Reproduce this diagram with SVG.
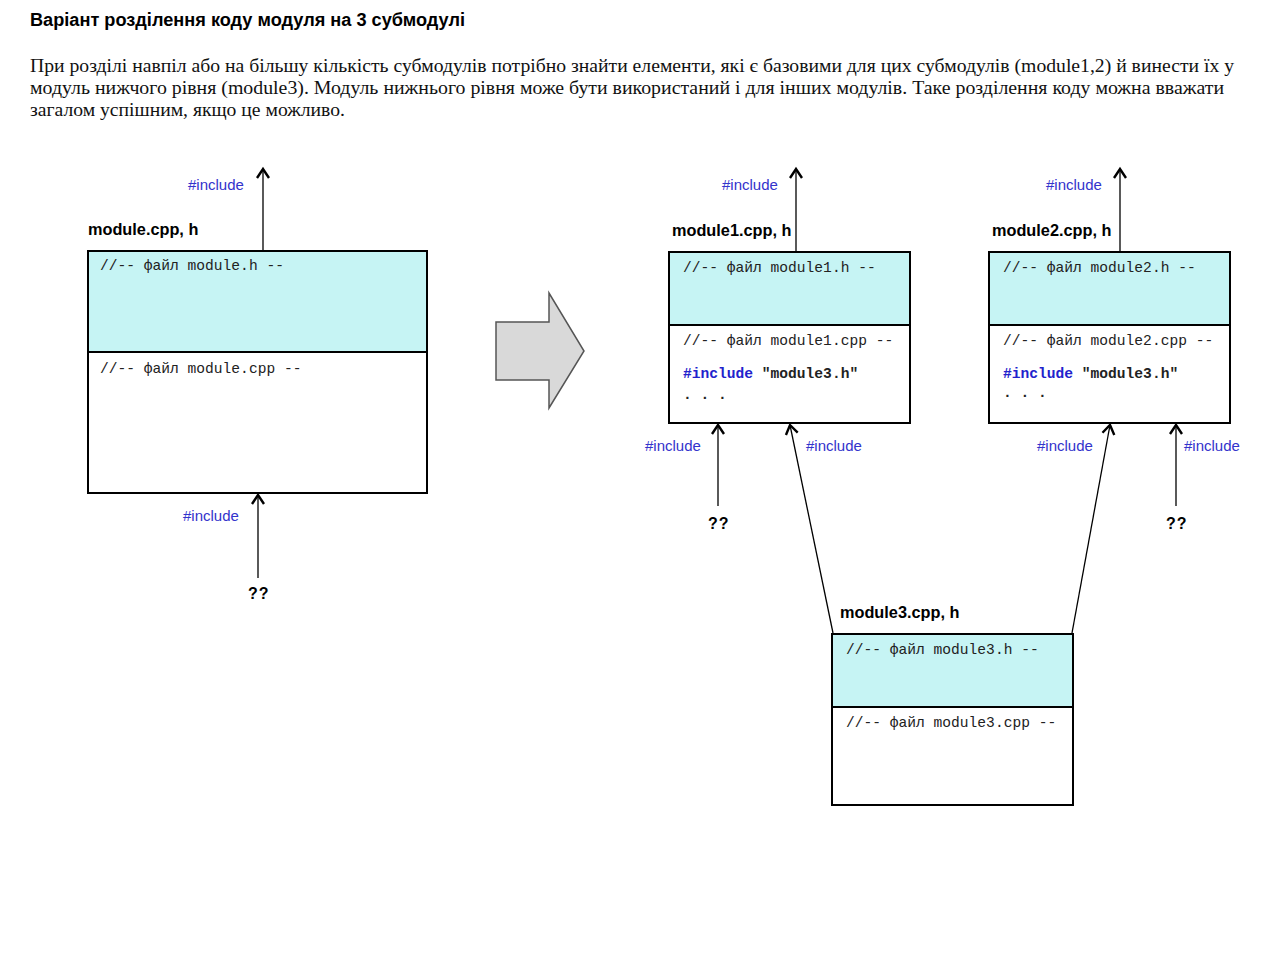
<svg xmlns="http://www.w3.org/2000/svg" width="1280" height="955" viewBox="0 0 1280 955">
<style>
.title{font-family:"Liberation Sans",Arial,sans-serif;font-weight:bold;font-size:18px;fill:#000}
.para{font-family:"Liberation Serif","Times New Roman",serif;font-size:18.5px;fill:#111}
.lbl{font-family:"Liberation Sans",Arial,sans-serif;font-weight:bold;font-size:16.3px;fill:#000}
.inc{font-family:"Liberation Sans",Arial,sans-serif;font-size:15px;fill:#3333CC}
.q{font-family:"Liberation Sans",Arial,sans-serif;font-weight:bold;font-size:16px;fill:#000;letter-spacing:1px}
.code{font-family:"Liberation Mono","Courier New",monospace;font-size:14.6px;fill:#222}
.kw{fill:#2222CC;font-weight:bold}
.hdr{fill:#C6F4F4;stroke:#000;stroke-width:2}
.body{fill:#fff;stroke:#000;stroke-width:2}
.edge{stroke:#000;stroke-width:1.3;fill:none;marker-end:url(#ah)}
</style>
<defs>
<marker id="ah" markerWidth="16" markerHeight="16" refX="12" refY="8" orient="auto" markerUnits="userSpaceOnUse">
<path d="M3,2 L12,8 L3,14" fill="none" stroke="#000" stroke-width="2.4"/>
</marker>
</defs>
<rect width="1280" height="955" fill="#fff"/>
<text class="title" x="30" y="26" textLength="435" lengthAdjust="spacingAndGlyphs">Варіант розділення коду модуля на 3 субмодулі</text>
<text class="para" x="30" y="72" textLength="1204" lengthAdjust="spacingAndGlyphs">При розділі навпіл або на більшу кількість субмодулів потрібно знайти елементи, які є базовими для цих субмодулів (module1,2) й винести їх у</text>
<text class="para" x="30" y="94" textLength="1194" lengthAdjust="spacingAndGlyphs">модуль нижчого рівня (module3). Модуль нижнього рівня може бути використаний і для інших модулів. Таке розділення коду можна вважати</text>
<text class="para" x="30" y="116" textLength="315" lengthAdjust="spacingAndGlyphs">загалом успішним, якщо це можливо.</text>

<g id="module">
<rect class="hdr" x="88" y="251" width="339" height="101"/>
<rect class="body" x="88" y="352" width="339" height="141"/>
<text class="lbl" x="88" y="235">module.cpp, h</text>
<text class="code" x="100" y="270">//-- файл module.h --</text>
<text class="code" x="100" y="373">//-- файл module.cpp --</text>
</g>

<g id="bigarrow">
<polygon points="496,322 549,322 549,293 584,351 549,408 549,380 496,380" fill="#D9D9D9" stroke="#555" stroke-width="1.5"/>
</g>

<g id="module1">
<rect class="hdr" x="669" y="252" width="241" height="73"/>
<rect class="body" x="669" y="325" width="241" height="98"/>
<text class="lbl" x="672" y="236">module1.cpp, h</text>
<text class="code" x="683" y="272">//-- файл module1.h --</text>
<text class="code" x="683" y="345">//-- файл module1.cpp --</text>
<text class="code" x="683" y="378" font-weight="bold"><tspan class="kw">#include</tspan> "module3.h"</text>
<text class="code" x="683" y="399" font-weight="bold">. . .</text>
</g>

<g id="module2">
<rect class="hdr" x="989" y="252" width="241" height="73"/>
<rect class="body" x="989" y="325" width="241" height="98"/>
<text class="lbl" x="992" y="236">module2.cpp, h</text>
<text class="code" x="1003" y="272">//-- файл module2.h --</text>
<text class="code" x="1003" y="345">//-- файл module2.cpp --</text>
<text class="code" x="1003" y="378" font-weight="bold"><tspan class="kw">#include</tspan> "module3.h"</text>
<text class="code" x="1003" y="397" font-weight="bold">. . .</text>
</g>

<g id="module3">
<rect class="hdr" x="832" y="634" width="241" height="73"/>
<rect class="body" x="832" y="707" width="241" height="98"/>
<text class="lbl" x="840" y="618">module3.cpp, h</text>
<text class="code" x="846" y="654">//-- файл module3.h --</text>
<text class="code" x="846" y="727">//-- файл module3.cpp --</text>
</g>

<g id="connectors">
<line class="edge" x1="263" y1="250" x2="263" y2="169"/>
<line class="edge" x1="258" y1="578" x2="258" y2="495"/>
<line class="edge" x1="796" y1="251" x2="796" y2="169"/>
<line class="edge" x1="1120" y1="251" x2="1120" y2="169"/>
<line class="edge" x1="718" y1="506" x2="718" y2="425"/>
<line class="edge" x1="833" y1="633" x2="790" y2="425"/>
<line class="edge" x1="1072" y1="633" x2="1110" y2="425"/>
<line class="edge" x1="1176" y1="506" x2="1176" y2="425"/>
</g>

<g id="labels">
<text class="inc" x="188" y="190">#include</text>
<text class="inc" x="183" y="521">#include</text>
<text class="q" x="248" y="599">??</text>
<text class="inc" x="722" y="190">#include</text>
<text class="inc" x="1046" y="190">#include</text>
<text class="inc" x="645" y="451">#include</text>
<text class="inc" x="806" y="451">#include</text>
<text class="inc" x="1037" y="451">#include</text>
<text class="inc" x="1184" y="451">#include</text>
<text class="q" x="708" y="529">??</text>
<text class="q" x="1166" y="529">??</text>
</g>
</svg>
